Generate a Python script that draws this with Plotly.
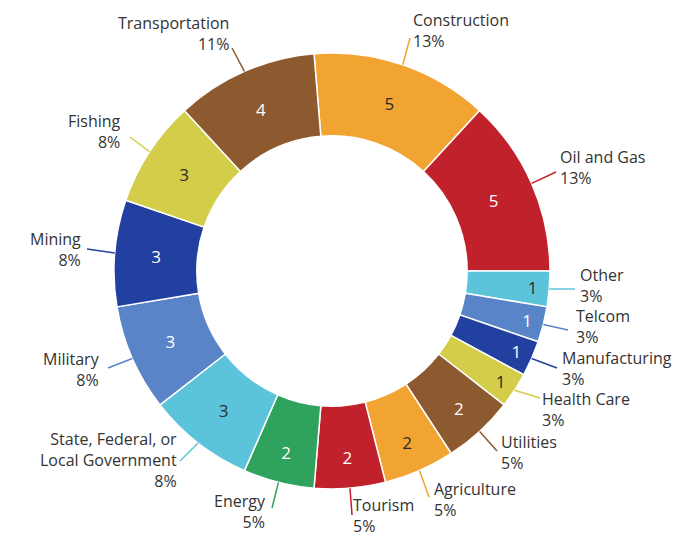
import math
import plotly.graph_objects as go

# sectors, clockwise, starting with Construction
SECTORS = ['Construction', 'Oil and Gas', 'Other', 'Telcom', 'Manufacturing',
           'Health Care', 'Utilities', 'Agriculture', 'Tourism', 'Energy',
           'State, Federal, or Local Government', 'Military', 'Mining',
           'Fishing', 'Transportation']
COUNTS = [5, 5, 1, 1, 1, 1, 2, 2, 2, 2, 3, 3, 3, 3, 4]
LABEL_TEXT = ['Construction<br>13%', 'Oil and Gas<br>13%', 'Other<br>3%',
              'Telcom<br>3%', 'Manufacturing<br>3%', 'Health Care<br>3%',
              'Utilities<br>5%', 'Agriculture<br>5%', 'Tourism<br>5%',
              'Energy<br>5%', 'State, Federal, or<br>Local Government<br>8%',
              'Military<br>8%', 'Mining<br>8%', 'Fishing<br>8%',
              'Transportation<br>11%']

ORANGE = '#F2A433'
RED = '#C1212A'
CYAN = '#5CC4DA'
MBLUE = '#5A84C8'
DBLUE = '#2240A0'
YELLOW = '#D3CD4A'
BROWN = '#8C5A2E'
GREEN = '#2FA25D'
COLORS = [ORANGE, RED, CYAN, MBLUE, DBLUE, YELLOW, BROWN, ORANGE, RED, GREEN,
          CYAN, MBLUE, DBLUE, YELLOW, BROWN]
DARK = '#2b2b2b'
INSIDE_COLORS = [DARK, 'white', DARK, 'white', 'white', DARK, 'white', DARK,
                 'white', 'white', DARK, 'white', 'white', DARK, 'white']
FONT = 'Open Sans'

# page body has an 8px margin; positions below are in page pixels
OFF = 8
W, H = 697, 537
ML, MR, MT, MB = 114 - OFF, 147 + OFF, 53 - OFF, 48 + OFF
PW, PH = W - ML - MR, H - MT - MB
CX, CY = ML + PW / 2 + OFF, MT + PH / 2 + OFF
R = min(PW, PH) / 2

# label placement: (anchor x, centre y, xanchor), leader end point
LABEL_POS = [(412, 30, 'left'), (559, 167, 'left'), (579, 285, 'left'),
             (575, 326, 'left'), (561, 368, 'left'), (541, 409, 'left'),
             (500, 452, 'left'), (433, 499, 'left'), (352, 515, 'left'),
             (267, 511, 'right'), (178, 460, 'right'), (101, 369, 'right'),
             (82, 249, 'right'), (122, 131, 'right'), (230, 33, 'right')]
LEADER_END = [(410, 38), (556, 172), (575, 289), (568, 330), (557, 368),
              (540, 398), (497, 451), (429, 497), (352, 515), (272, 508),
              (180, 461), (108, 368), (87, 249), (130, 137), (232, 48)]


def px(x, y):
    return (x - OFF - ML) / PW, 1 - (y - OFF - MT) / PH


total = sum(COUNTS)
# Other starts at 3 o'clock
rotation = 90 - (COUNTS[0] + COUNTS[1]) / total * 360

fig = go.Figure(go.Pie(
    labels=SECTORS,
    values=COUNTS,
    text=[str(v) for v in COUNTS],
    textinfo='text',
    textposition='inside',
    insidetextorientation='horizontal',
    insidetextfont=dict(color=INSIDE_COLORS, size=17, family=FONT),
    sort=False,
    direction='clockwise',
    rotation=rotation,
    hole=0.62,
    marker=dict(colors=COLORS, line=dict(color='white', width=1.5)),
    hoverinfo='none',
    showlegend=False,
    domain=dict(x=[0, 1], y=[0, 1]),
))

shapes = []
annotations = []
cum = 0
for i, v in enumerate(COUNTS):
    mid = rotation + (cum + v / 2) / total * 360
    cum += v
    a = math.radians(mid)
    sx, sy = CX + R * math.sin(a), CY - R * math.cos(a)
    ex, ey = LEADER_END[i]
    x0, y0 = px(sx, sy)
    x1, y1 = px(ex, ey)
    shapes.append(dict(type='line', xref='paper', yref='paper',
                       x0=x0, y0=y0, x1=x1, y1=y1,
                       line=dict(color=COLORS[i], width=1.5)))
    lx, ly, anchor = LABEL_POS[i]
    ax_, ay_ = px(lx, ly)
    annotations.append(dict(xref='paper', yref='paper', x=ax_, y=ay_,
                            text=LABEL_TEXT[i], showarrow=False,
                            xanchor=anchor, yanchor='middle', align=anchor,
                            borderpad=0,
                            font=dict(size=16, color='#333333', family=FONT)))

fig.update_layout(
    width=W, height=H,
    margin=dict(l=ML, r=MR, t=MT, b=MB),
    paper_bgcolor='white',
    plot_bgcolor='white',
    shapes=shapes,
    annotations=annotations,
)

fig.write_html("out.html")
